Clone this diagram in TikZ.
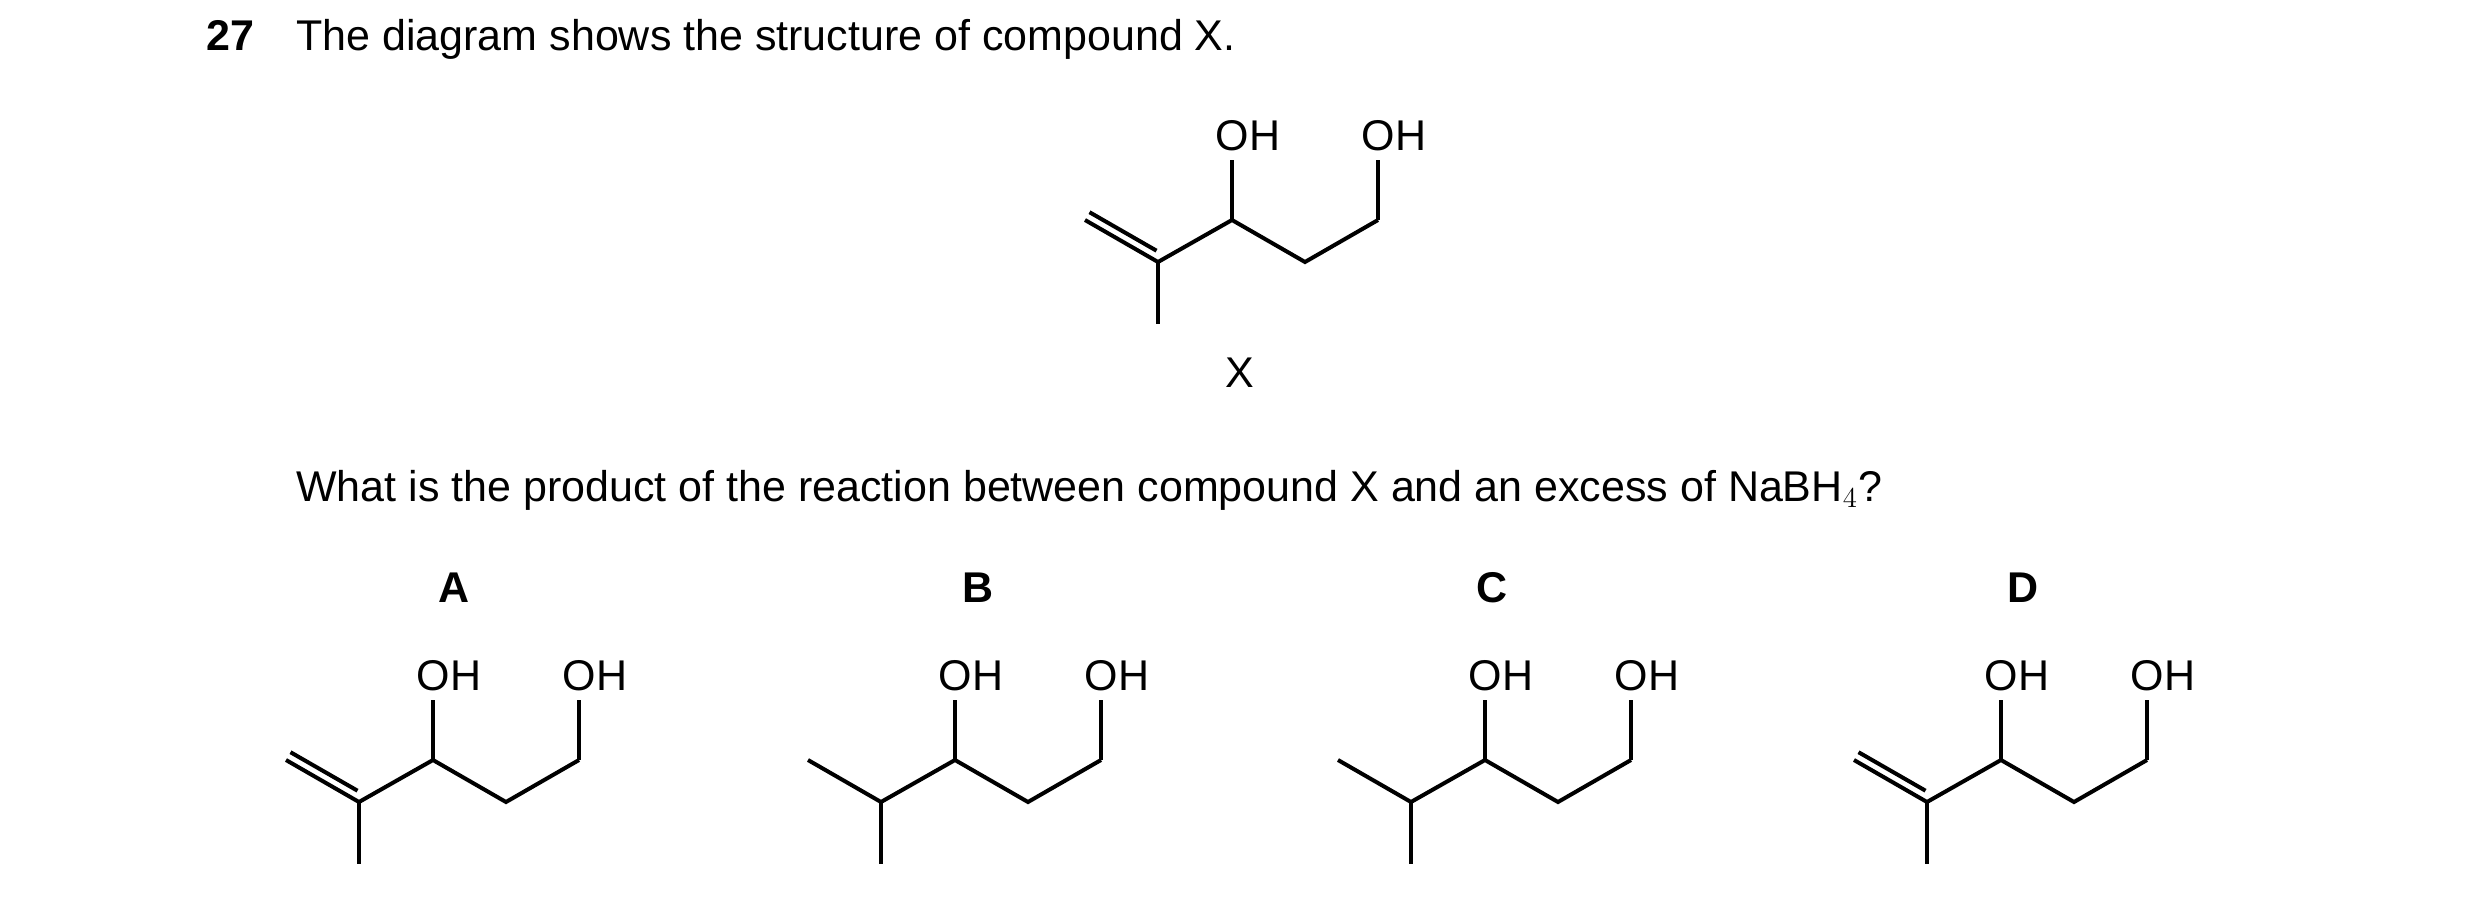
\documentclass[tikz,border=0pt]{standalone}
\usepackage{fontspec}
\setmainfont{Liberation Sans}
\usetikzlibrary{calc}
\tikzset{
  bond/.style={line width=2pt, line cap=butt},
  atom/.style={inner sep=0pt, font=\fontsize{21.5}{26}\selectfont},
  txt/.style={inner sep=0pt, anchor=base west, font=\fontsize{21.5}{26}\selectfont},
  tag/.style={inner sep=0pt, font=\fontsize{21.5}{26}\selectfont\bfseries}
}
\begin{document}
\begin{tikzpicture}[x=0.5pt,y=-0.5pt]
  \useasboundingbox (0,0) rectangle (2480,906);
  % texts
  \node[txt, font=\fontsize{21.5}{26}\selectfont\bfseries] (num) at (206,50) {27};
  \node[txt] (title) at (296,50) {The diagram shows the structure of compound X.};
  \node[txt] (question) at (296,501) {What is the product of the reaction between compound X and an excess of NaBH$_4$?};
  % skeletons: name / C2 x / C2 y / double bond / left group / right group / tag x
  \foreach \s/\cx/\cy/\dbl/\lft/\rgt/\tx in {
      X/1158/262/1/O/O/0,
      A/359/802/1/OH/OH/95,
      B/881/802/0/OH/OH/97,
      C/1411/802/0/O/O/81,
      D/1927/802/1/O/OH/96}{
    \coordinate (\s2) at (\cx,\cy);
    \coordinate (\s1) at ($(\s2)+(-73,-42)$);
    \coordinate (\s0) at ($(\s2)+(0,62)$);
    \coordinate (\s3) at ($(\s2)+(74,-42)$);
    \coordinate (\s4) at ($(\s2)+(147,0)$);
    \coordinate (\s5) at ($(\s2)+(220,-42)$);
    \draw[bond] (\s1) -- (\s2) -- (\s3) -- (\s4) -- (\s5);
    \draw[bond] (\s2) -- (\s0);
    \ifnum\dbl=1
      \draw[bond] ($(\s1)+(4.5,-7.8)$) -- ($(\s2)+(-1.5,-11.3)$);
    \fi
    \foreach \c/\g in {3/\lft,5/\rgt}{
      \coordinate (\s\c t) at ($(\s\c)+(0,-60)$);
      \if\g O
        \ifx\g\lft\fi
      \fi
      \def\gname{\g}
      \def\tmpO{O}
      \ifx\gname\tmpO
        \node[atom] (\s\c o) at ($(\s\c)+(0,-83)$) {O};
        \draw[bond] ($(\s\c)+(-5,-3)$) -- ($(\s\c t)+(-5,0)$);
        \draw[bond] ($(\s\c)+(5,3)$) -- ($(\s\c t)+(5,0)$);
      \else
        \node[atom] (\s\c o) at ($(\s\c)+(16,-84)$) {OH};
        \draw[bond] (\s\c) -- (\s\c t);
      \fi
    }
    \ifnum\tx>0
      \node[tag] (lab\s) at ($(\s2)+(\tx,-214)$) {\s};
    \fi
  }
  \node[atom] (labX) at (1240,373) {X};
\end{tikzpicture}
\end{document}
